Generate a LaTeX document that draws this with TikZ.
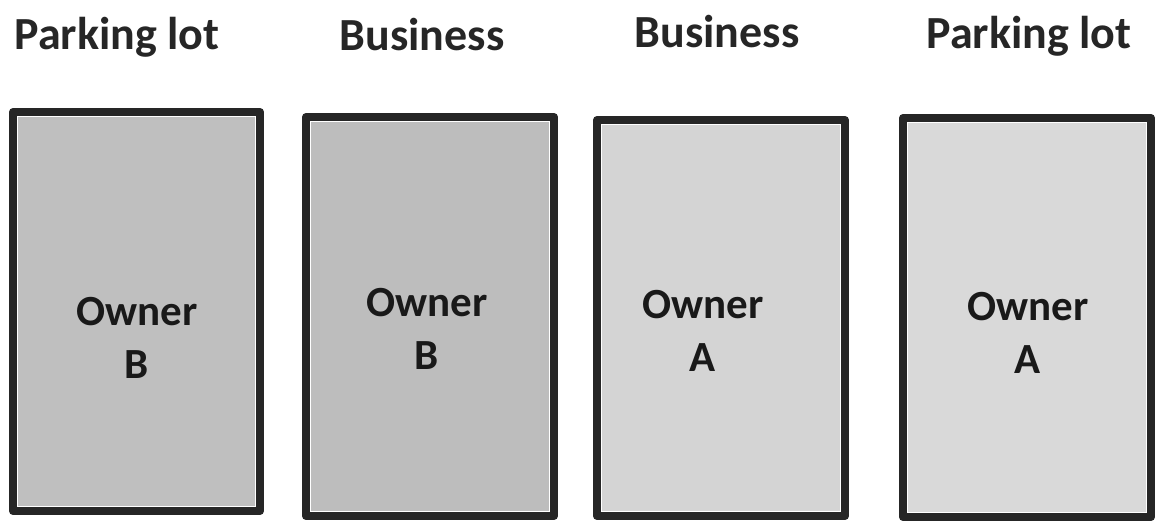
\documentclass[tikz,border=0pt]{standalone}
\usepackage{fontspec}
\setmainfont{Carlito}
\begin{document}
\begin{tikzpicture}[x=1pt,y=-1pt,
  lot/.style={draw=black!85,line width=8pt,line join=round},
  title/.style={font=\fontsize{46}{50}\selectfont\bfseries,text=black!85,anchor=base,inner sep=0pt},
  owner/.style={font=\fontsize{43}{47}\selectfont\bfseries,text=black!90,anchor=base,inner sep=0pt,align=center}]
\useasboundingbox (0,0) rectangle (1158,522);
\definecolor{g1}{gray}{0.75}
\definecolor{g2}{gray}{0.74}
\definecolor{g3}{gray}{0.83}
\definecolor{g4}{gray}{0.85}
% lots
\path[lot,fill=g1] (13,112) rectangle (260,511);
\path[lot,fill=g2] (306,117) rectangle (554,516);
\path[lot,fill=g3] (597,120) rectangle (845,516);
\path[lot,fill=g4] (903,118) rectangle (1151,517);
\draw[white,line width=0.8pt] (17.5,116.5) rectangle (255.5,506.5);
\draw[white,line width=0.8pt] (310.5,121.5) rectangle (549.5,511.5);
\draw[white,line width=0.8pt] (601.5,124.5) rectangle (840.5,511.5);
\draw[white,line width=0.8pt] (907.5,122.5) rectangle (1146.5,512.5);
% titles
\node[title] (t1) at (117,49) {Parking lot};
\node[title] (t2) at (422,50) {Business};
\node[title] (t3) at (717,47) {Business};
\node[title] (t4) at (1029,48) {Parking lot};
% owners
\node[owner] (o1) at (137,325) {Owner};
\node[owner] (b1) at (137,378) {B};
\node[owner] (o2) at (427,316) {Owner};
\node[owner] (b2) at (427,369) {B};
\node[owner] (o3) at (703,318) {Owner};
\node[owner] (a3) at (703,371) {A};
\node[owner] (o4) at (1028,320) {Owner};
\node[owner] (a4) at (1028,373) {A};
\end{tikzpicture}
\end{document}
